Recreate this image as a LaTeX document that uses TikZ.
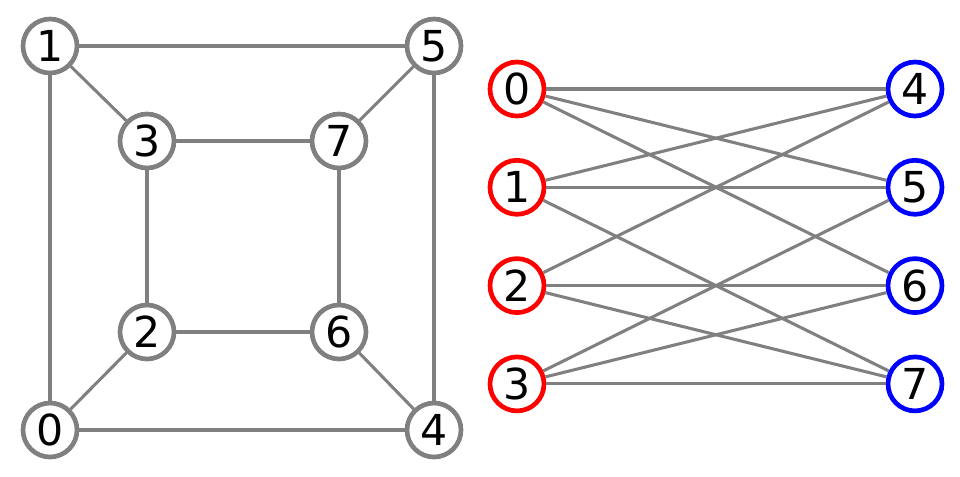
\documentclass[tikz,border=0pt]{standalone}
\usepackage{fontspec}
\setmainfont{DejaVu Sans}
\tikzset{
  vtx/.style={circle, draw=gray, fill=white, line width=3.5pt, minimum size=40.5pt, inner sep=0pt, font=\fontsize{32}{32}\selectfont},
  redvtx/.style={vtx, draw=red},
  bluevtx/.style={vtx, draw=blue},
  edge/.style={draw=gray, line width=2.3pt}
}
\begin{document}
\begin{tikzpicture}[x=0.75pt, y=-0.75pt]
      \useasboundingbox (0, 0) rectangle (960, 476);
      % cube
      \node[vtx] (c1) at (50, 46) {1};
      \node[vtx] (c5) at (434, 46) {5};
      \node[vtx] (c3) at (147, 141) {3};
      \node[vtx] (c7) at (339, 141) {7};
      \node[vtx] (c2) at (147, 332) {2};
      \node[vtx] (c6) at (339, 332) {6};
      \node[vtx] (c0) at (50, 430) {0};
      \node[vtx] (c4) at (434, 430) {4};
      \foreach \a/\b in {0/1, 0/2, 0/4, 1/3, 1/5, 2/3, 2/6, 3/7, 4/5, 4/6, 5/7, 6/7}
        \draw[edge] (c\a) -- (c\b);
      % bipartite
      \foreach \i in {0, 1, 2, 3} {
        \node[redvtx] (r\i) at (517, 89 + 98.3*\i) {\i};
      }
      \foreach \i [evaluate=\i as \j using int(\i+4)] in {0, 1, 2, 3} {
        \node[bluevtx] (b\j) at (915, 89 + 98.3*\i) {\j};
      }
      \foreach \a/\b in {0/4, 0/5, 0/6, 1/4, 1/5, 1/7, 2/4, 2/6, 2/7, 3/5, 3/6, 3/7}
        \draw[edge] (r\a) -- (b\b);
    \end{tikzpicture}
\end{document}
